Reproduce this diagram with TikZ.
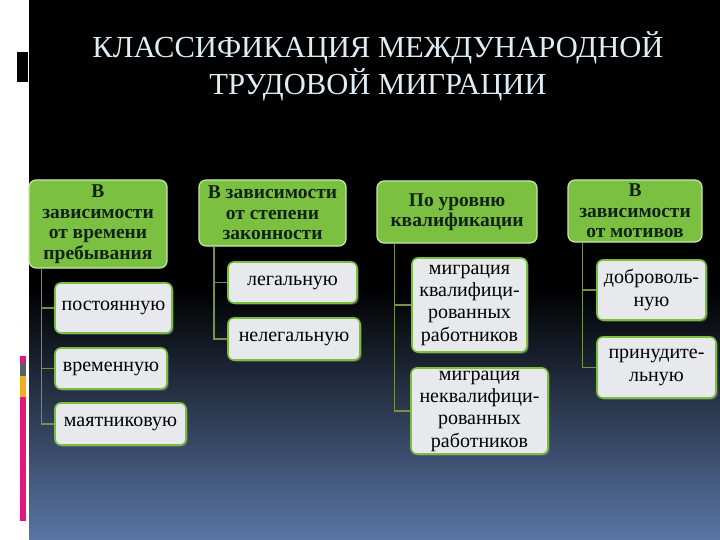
\documentclass[tikz,border=0pt]{standalone}
\usepackage{fontspec}
\setmainfont{Liberation Serif}
\usetikzlibrary{shadows}
\definecolor{hdrgreen}{RGB}{124,192,66}
\definecolor{hdrborder}{RGB}{200,230,170}
\definecolor{hdrtext}{RGB}{16,34,16}
\definecolor{leafgray}{RGB}{232,233,236}
\definecolor{leafgreen}{RGB}{122,190,60}
\definecolor{connc}{RGB}{118,146,72}
\definecolor{bgblue}{RGB}{90,118,166}
\definecolor{titlec}{RGB}{222,236,244}
\definecolor{barpink}{RGB}{226,24,122}
\definecolor{bargray}{RGB}{88,94,104}
\definecolor{baryellow}{RGB}{240,176,30}
\tikzset{
  hdr/.style={rounded corners=7pt, fill=hdrgreen, draw=hdrborder, line width=1.2pt,
    text=hdrtext, align=center, inner sep=0pt,
    font=\fontsize{19.5}{20.5}\selectfont\bfseries},
  leaf/.style={rounded corners=6pt, fill=leafgray, draw=leafgreen, line width=1.6pt,
    text=black, align=center, inner sep=0pt,
    drop shadow={shadow xshift=1.5pt, shadow yshift=-1.5pt, opacity=0.6},
    font=\fontsize{20}{22.3}\selectfont},
  conn/.style={draw=connc, line width=1.6pt},
  ttl/.style={text=titlec, align=center, font=\fontsize{30.6}{37}\selectfont}
}
\begin{document}
\begin{tikzpicture}[x=1pt,y=-1pt]
\useasboundingbox (0,0) rectangle (720,540);
% background
\fill[white] (0,0) rectangle (29,540);
\fill[black] (29,0) rectangle (720,290);
\shade[top color=black, bottom color=bgblue] (29,289.5) rectangle (720,540);
% left decorations
\fill[black] (17,52) rectangle (28,82);
\fill[barpink] (20,356) rectangle (26,363);
\fill[bargray] (20,363) rectangle (26,376);
\fill[baryellow] (20,376) rectangle (26,397);
\fill[barpink] (20,397) rectangle (26,521);
% title
\node[ttl] (title) at (378,66) {КЛАССИФИКАЦИЯ МЕЖДУНАРОДНОЙ\\ТРУДОВОЙ МИГРАЦИИ};
% headers
\node[hdr, minimum width=138pt, minimum height=88pt] (h1) at (98,224) {В\\зависимости\\от времени\\пребывания};
\node[hdr, minimum width=147pt, minimum height=66pt] (h2) at (272.5,213) {В зависимости\\от степени\\законности};
\node[hdr, minimum width=160pt, minimum height=62pt] (h3) at (457,212) {По уровню\\квалификации};
\node[hdr, minimum width=134pt, minimum height=62pt] (h4) at (635,211) {В\\зависимости\\от мотивов};
% leaves
\node[leaf, minimum width=117pt, minimum height=50pt] (l11) at (113.5,308) {постоянную};
\node[leaf, minimum width=112pt, minimum height=41pt] (l12) at (111,368.5) {временную};
\node[leaf, minimum width=131pt, minimum height=42pt] (l13) at (120.5,424) {маятниковую};
\node[leaf, minimum width=129pt, minimum height=41pt] (l21) at (292.5,282.5) {легальную};
\node[leaf, minimum width=132pt, minimum height=42pt] (l22) at (294,339) {нелегальную};
\node[leaf, minimum width=115pt, minimum height=94pt] (l31) at (469.5,305) {миграция\\квалифици-\\рованных\\работников};
\node[leaf, minimum width=137pt, minimum height=86pt] (l32) at (479.5,411) {миграция\\неквалифици-\\рованных\\работников};
\node[leaf, minimum width=109pt, minimum height=60pt] (l41) at (651.5,290) {доброволь-\\ную};
\node[leaf, minimum width=119pt, minimum height=61pt] (l42) at (656.5,367.5) {принудите-\\льную};
% connectors
\draw[conn] ([xshift=13pt]h1.south west) |- (l11.west);
\draw[conn] ([xshift=13pt]h1.south west) |- (l12.west);
\draw[conn] ([xshift=13pt]h1.south west) |- (l13.west);
\draw[conn] ([xshift=15.5pt]h2.south west) |- (l21.west);
\draw[conn] ([xshift=15.5pt]h2.south west) |- (l22.west);
\draw[conn] ([xshift=18pt]h3.south west) |- (l31.west);
\draw[conn] ([xshift=18pt]h3.south west) |- (l32.west);
\draw[conn] ([xshift=15pt]h4.south west) |- (l41.west);
\draw[conn] ([xshift=15pt]h4.south west) |- (l42.west);
\end{tikzpicture}
\end{document}
